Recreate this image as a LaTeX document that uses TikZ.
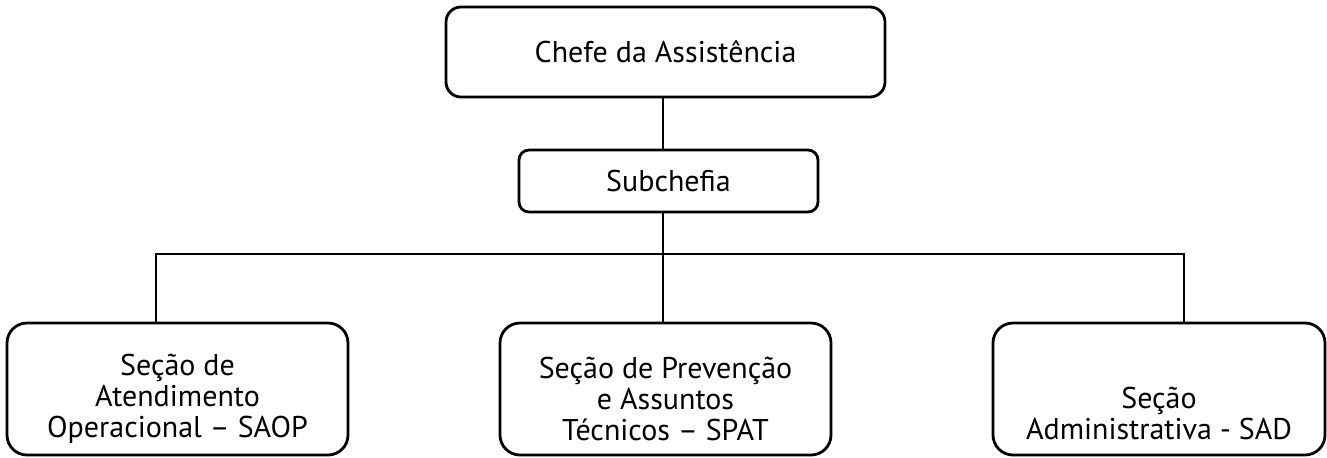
\documentclass[tikz,border=0pt]{standalone}
\usepackage{fontspec}
\setmainfont{PT Sans}
\usetikzlibrary{positioning}

\tikzset{
  unit/.style={draw,black,line width=1.4pt,align=center,
    font=\fontsize{15}{15.5}\selectfont,inner sep=0pt},
  chefbox/.style={unit,rounded corners=7.5pt,minimum width=219.5pt,minimum height=45pt},
  subbox/.style={unit,rounded corners=5pt,minimum height=31pt},
  secbox/.style={unit,rounded corners=10pt,minimum height=66pt}
}

\begin{document}
\begin{tikzpicture}[x=0.5pt,y=-0.5pt]
\useasboundingbox (0,0) rectangle (1327,457);

\node[chefbox] (chefe) at (665.5,52) {Chefe da Assistência};
\node[subbox,minimum width=149.5pt] (sub) at (668.5,181) {Subchefia};

\node[secbox,minimum width=170.5pt] (saop) at (177.5,389)
  {\mbox{}\\[5pt]Seção de\\Atendimento\\Operacional -- SAOP};
\node[secbox,minimum width=165.5pt] (spat) at (665.5,389)
  {\mbox{}\\[5pt]Seção de Prevenção\\e Assuntos\\Técnicos -- SPAT};
\node[secbox,minimum width=166pt] (sad) at (1159,389)
  {\mbox{}\\[20pt]Seção\\Administrativa - SAD};

% bus
\coordinate (trunk) at (663,254);
\coordinate (busL) at (156,254);
\coordinate (busR) at (1184,254);

\draw[line width=1.4pt] (trunk |- chefe.south) -- (trunk |- sub.north);
\draw[line width=1.4pt] (trunk |- sub.south) -- (trunk |- spat.north);
\draw[line width=1.4pt] (busL |- saop.north) -- (busL) -- (busR) -- (busR |- sad.north);
\end{tikzpicture}
\end{document}
